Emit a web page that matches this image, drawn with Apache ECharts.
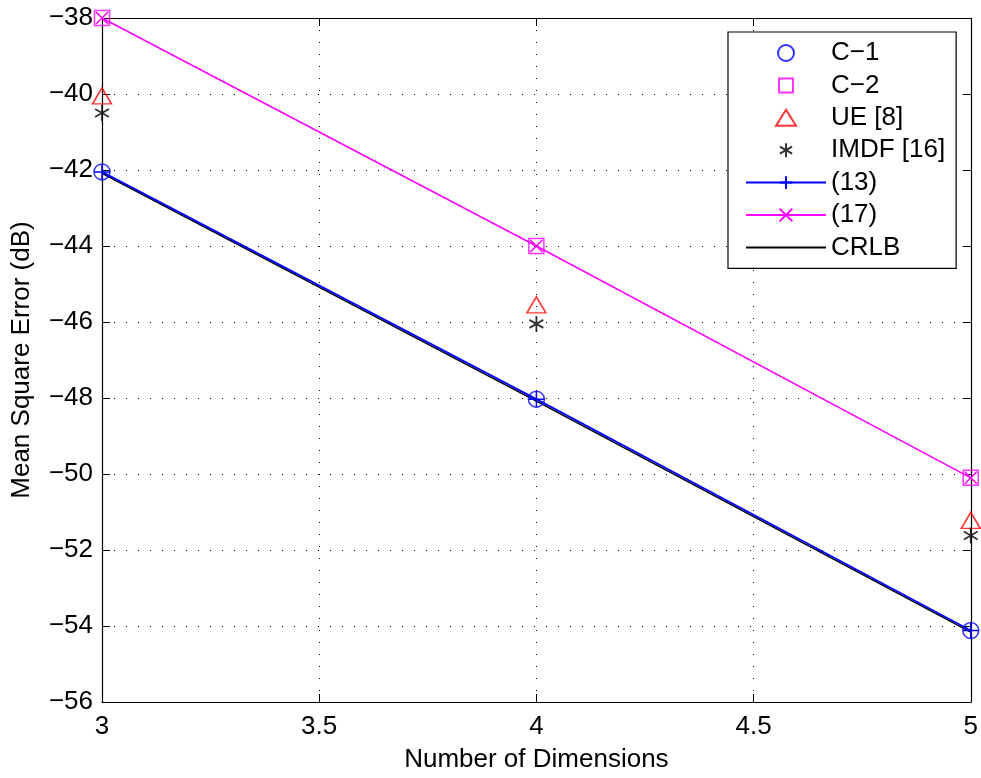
<!DOCTYPE html>
<html><head><meta charset="utf-8">
<script src="https://cdn.jsdelivr.net/npm/echarts@6/dist/echarts.min.js"></script>
<style>html,body{margin:0;padding:0;background:#fff}#c{width:981px;height:778px}</style>
</head><body><div id="c"></div>
<script>
const dims = [3, 4, 5];
const c1 = [-42.05, -48.03, -54.12];
const c2 = [-38.0, -44.0, -50.1];
const ue = [-40.05, -45.55, -51.22];
const imdf = [-40.5, -46.05, -51.62];
const eq13 = [-42.05, -48.03, -54.12];
const eq17 = [-38.0, -44.0, -50.1];
const crlb = [-42.09, -48.08, -54.16];
const seriesNames = ['C\u22121', 'C\u22122', 'UE [8]', 'IMDF [16]', '(13)', '(17)', 'CRLB'];

const pts = v => dims.map((d, i) => [d, v[i]]);
const font = 'Liberation Sans, Arial, sans-serif';
const FS = 26;
const minus = v => String(v).replace('-', '\u2212');
const star = 'path://M0,-1L0,1M-0.866,-0.5L0.866,0.5M-0.866,0.5L0.866,-0.5';
const plus = 'path://M0,-1L0,1M-1,0L1,0';
const cross = 'path://M-1,-1L1,1M-1,1L1,-1';
// legend icons padded to the full 80x16 icon box so they keep their aspect
const legendRect = 'path://M0,0M80,16M33,1L47,1L47,15L33,15Z';
const legendTri = 'path://M0,0M80,16M40,0L50,16L30,16Z';
const legendStar = 'path://M0,0M80,16M40,1L40,15M33.9,4.5L46.1,11.5M33.9,11.5L46.1,4.5';

const chart = echarts.init(document.getElementById('c'), null, {renderer: 'canvas'});
const axisCommon = {
  axisLine: {show: true, onZero: false, lineStyle: {color: '#000', width: 1.2}},
  axisTick: {show: true, inside: true, length: 8, lineStyle: {color: '#000', width: 1}},
};
chart.setOption({
  animation: false,
  backgroundColor: '#fff',
  grid: {left: 102, top: 18, right: 9, bottom: 75, containLabel: false},
  xAxis: [
    Object.assign({type: 'value', min: 3, max: 5, interval: 0.5, position: 'bottom',
      name: 'Number of Dimensions', nameLocation: 'middle', nameGap: 45,
      nameTextStyle: {fontFamily: font, fontSize: FS, color: '#000'},
      axisLabel: {fontFamily: font, fontSize: FS, color: '#000', margin: 12},
      splitLine: {show: true, lineStyle: {color: '#000', type: [1, 11], width: 1}}}, axisCommon),
    Object.assign({type: 'value', min: 3, max: 5, interval: 0.5, position: 'top',
      axisLabel: {show: false}, splitLine: {show: false}}, axisCommon)
  ],
  yAxis: [
    Object.assign({type: 'value', min: -56, max: -38, interval: 2, position: 'left',
      name: 'Mean Square Error (dB)', nameLocation: 'middle', nameGap: 67,
      nameTextStyle: {fontFamily: font, fontSize: FS, color: '#000'},
      axisLabel: {fontFamily: font, fontSize: FS, color: '#000', margin: 9, formatter: minus},
      splitLine: {show: true, lineStyle: {color: '#000', type: [1, 11], width: 1}}}, axisCommon),
    Object.assign({type: 'value', min: -56, max: -38, interval: 2, position: 'right',
      axisLabel: {show: false}, splitLine: {show: false}}, axisCommon)
  ],
  legend: {
    orient: 'vertical', left: 728, top: 32,
    backgroundColor: '#fff', borderColor: '#000', borderWidth: 1.2, borderRadius: 0,
    padding: [8, 11, 8, 17],
    itemWidth: 80, itemHeight: 16, itemGap: 6.4, itemTextGap: 8,
    textStyle: {fontFamily: font, fontSize: FS, color: '#000', lineHeight: 26},
    data: [
      {name: seriesNames[0]},
      {name: seriesNames[1], icon: legendRect},
      {name: seriesNames[2], icon: legendTri},
      {name: seriesNames[3], icon: legendStar},
      {name: seriesNames[4]},
      {name: seriesNames[5]},
      {name: seriesNames[6]}
    ]
  },
  series: [
    {name: 'CRLB', type: 'line', data: pts(crlb), symbol: 'circle', showSymbol: false, z: 2,
      lineStyle: {color: '#000', width: 1.5},
      itemStyle: {color: 'rgba(0,0,0,0)', borderWidth: 0}},
    {name: '(13)', type: 'line', data: pts(eq13), symbol: plus, symbolSize: 16, symbolKeepAspect: true, z: 3,
      lineStyle: {color: '#0000ff', width: 1.8},
      itemStyle: {color: 'rgba(0,0,0,0)', borderColor: '#0000ff', borderWidth: 1.5}},
    {name: '(17)', type: 'line', data: pts(eq17), symbol: cross, symbolSize: 12, symbolKeepAspect: true, z: 3,
      lineStyle: {color: '#ff00ff', width: 1.5},
      itemStyle: {color: 'rgba(0,0,0,0)', borderColor: '#ff00ff', borderWidth: 1.5}},
    {name: 'C\u22121', type: 'scatter', data: pts(c1), symbol: 'circle', symbolSize: 16, z: 4,
      itemStyle: {color: 'rgba(0,0,0,0)', borderColor: '#0000ff', borderWidth: 1.5}},
    {name: 'C\u22122', type: 'scatter', data: pts(c2), symbol: 'rect', symbolSize: 15, z: 4,
      itemStyle: {color: 'rgba(0,0,0,0)', borderColor: '#ff00ff', borderWidth: 1.5}},
    {name: 'UE [8]', type: 'scatter', data: pts(ue), symbol: 'triangle', symbolSize: [19, 16], z: 4,
      itemStyle: {color: 'rgba(0,0,0,0)', borderColor: '#ff0000', borderWidth: 1.5}},
    {name: 'IMDF [16]', type: 'scatter', data: pts(imdf), symbol: star, symbolSize: 16, symbolKeepAspect: true, z: 4,
      itemStyle: {color: 'rgba(0,0,0,0)', borderColor: '#000', borderWidth: 1.8}}
  ]
});
</script></body></html>
